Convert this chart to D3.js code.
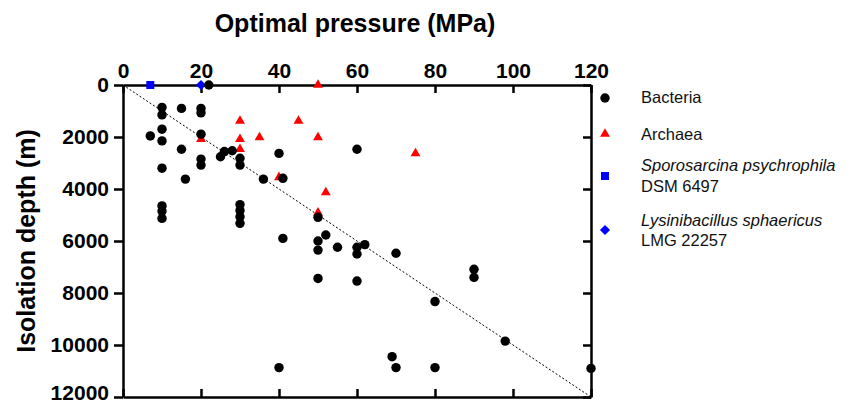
<!DOCTYPE html>
<html>
<head>
<meta charset="utf-8">
<script src="https://cdn.jsdelivr.net/npm/d3@7"></script>
<style>
  body { margin: 0; background: #fff; }
  text { font-family: "Liberation Sans", Arial, sans-serif; }
  .axis path, .axis line { stroke: #000; stroke-width: 2.5; }
  .axis text { font-size: 21px; font-weight: bold; fill: #000; }
</style>
</head>
<body>
<div id="Chart"></div>
<script>
var margin = { top: 85, right: 271, bottom: 7, left: 123 };
var width = 862 - margin.left - margin.right;
var height = 404 - margin.top - margin.bottom;

// optimal pressure (MPa), isolation depth (m)
var bacteriaX = [22, 10, 10, 10, 10, 10, 7, 15, 15, 16, 20, 20, 20, 20, 20, 25, 26, 28, 30, 30,
                 10, 10, 10, 30, 30, 30, 30, 40, 60, 36, 41, 50,
                 41, 52, 50, 50, 55, 60, 60, 62, 70, 50, 60, 80, 40, 69, 70, 80, 90, 90, 98, 120];
var bacteriaY = [0, 860, 1150, 1700, 2150, 3200, 1960, 900, 2470, 3620, 900, 1070, 1890, 2850, 3080, 2760, 2560, 2530, 2820, 3080,
                 4650, 4850, 5130, 4600, 4830, 5070, 5320, 2630, 2470, 3620, 3590, 5090,
                 5900, 5770, 6000, 6350, 6240, 6240, 6500, 6140, 6470, 7440, 7540, 8330, 10870, 10450, 10870, 10870, 7090, 7400, 9850, 10900];
var archaeaX = [50, 30, 45, 20, 30, 35, 50, 30, 75, 40, 52, 50];
var archaeaY = [0, 1380, 1380, 2080, 2080, 2020, 2020, 2470, 2630, 3550, 4130, 4910];
var sporoX = [7], sporoY = [0];
var lysiX = [20], lysiY = [0];

var xTicks = [0, 20, 40, 60, 80, 100, 120];
var yTicks = [0, 2000, 4000, 6000, 8000, 10000, 12000];

var svg = d3.select("#Chart")
    .append("svg")
    .attr("width", 862)
    .attr("height", 404);

var chart = svg.append("g")
    .attr("transform", "translate(" + margin.left + "," + margin.top + ")");

var x = d3.scaleLinear().domain([0, 120]).range([0, width]);
var y = d3.scaleLinear().domain([0, 12000]).range([0, height]);

// 1:1 reference line
chart.append("line")
    .attr("x1", x(0)).attr("y1", y(0))
    .attr("x2", x(120)).attr("y2", y(12000))
    .attr("stroke", "#000")
    .attr("stroke-width", 1)
    .attr("stroke-dasharray", "2,2");

chart.append("g")
    .attr("class", "axis")
    .call(d3.axisTop(x).tickValues(xTicks).tickSizeInner(-8).tickSizeOuter(0).tickPadding(7));

chart.append("g")
    .attr("class", "axis")
    .attr("transform", "translate(0," + height + ")")
    .call(d3.axisBottom(x).tickValues(xTicks).tickSizeInner(-8).tickSizeOuter(0).tickFormat(""));

var yAxis = chart.append("g")
    .attr("class", "axis")
    .call(d3.axisLeft(y).tickValues(yTicks).tickSize(9).tickSizeOuter(0).tickPadding(5).tickFormat(d3.format("d")));
// keep the last label inside the page
yAxis.selectAll(".tick text").filter(function(d) { return d === 12000; }).attr("dy", "0.1em");

chart.append("g")
    .attr("class", "axis")
    .attr("transform", "translate(" + width + ",0)")
    .call(d3.axisRight(y).tickValues(yTicks).tickSizeInner(-8).tickSizeOuter(0).tickFormat(""));

var circle = d3.symbol().type(d3.symbolCircle).size(70);
var triangle = d3.symbol().type(d3.symbolTriangle).size(42);
var square = d3.symbol().type(d3.symbolSquare).size(64);
var diamond = d3.symbol().type(d3.symbolSquare).size(52);

chart.selectAll(".sporo")
    .data(d3.range(sporoX.length))
    .enter().append("path")
    .attr("class", "sporo")
    .attr("d", square)
    .attr("transform", function(i) { return "translate(" + x(sporoX[i]) + "," + y(sporoY[i]) + ")"; })
    .attr("fill", "#0000ff");

chart.selectAll(".lysi")
    .data(d3.range(lysiX.length))
    .enter().append("path")
    .attr("class", "lysi")
    .attr("d", diamond)
    .attr("transform", function(i) { return "translate(" + x(lysiX[i]) + "," + y(lysiY[i]) + ") rotate(45)"; })
    .attr("fill", "#0000ff");

chart.selectAll(".archaea")
    .data(d3.range(archaeaX.length))
    .enter().append("path")
    .attr("class", "archaea")
    .attr("d", triangle)
    .attr("transform", function(i) { return "translate(" + x(archaeaX[i]) + "," + y(archaeaY[i]) + ")"; })
    .attr("fill", "#ff0000");

chart.selectAll(".bacteria")
    .data(d3.range(bacteriaX.length))
    .enter().append("path")
    .attr("class", "bacteria")
    .attr("d", circle)
    .attr("transform", function(i) { return "translate(" + x(bacteriaX[i]) + "," + y(bacteriaY[i]) + ")"; })
    .attr("fill", "#000");

// titles
svg.append("text")
    .attr("x", 355)
    .attr("y", 32)
    .attr("text-anchor", "middle")
    .style("font-size", "25px")
    .style("font-weight", "bold")
    .text("Optimal pressure (MPa)");

svg.append("text")
    .attr("transform", "translate(35," + (margin.top + height / 2) + ") rotate(-90)")
    .attr("text-anchor", "middle")
    .style("font-size", "25px")
    .style("font-weight", "bold")
    .text("Isolation depth (m)");

// legend
var legend = [
  { sym: circle, color: "#000", y: 98, rot: 0, lines: [["Bacteria", false]] },
  { sym: triangle, color: "#ff0000", y: 134, rot: 0, lines: [["Archaea", false]] },
  { sym: square, color: "#0000ff", y: 176, rot: 0, lines: [["Sporosarcina psychrophila", true], ["DSM 6497", false]] },
  { sym: diamond, color: "#0000ff", y: 230, rot: 45, lines: [["Lysinibacillus sphaericus", true], ["LMG 22257", false]] }
];
var legendTextY = [[103], [140], [171, 192], [226, 246]];

legend.forEach(function(d, i) {
  svg.append("path")
      .attr("d", d.sym)
      .attr("transform", "translate(605," + d.y + ") rotate(" + d.rot + ")")
      .attr("fill", d.color);
  d.lines.forEach(function(l, j) {
    svg.append("text")
        .attr("x", 641)
        .attr("y", legendTextY[i][j])
        .style("font-size", "16.5px")
        .style("font-style", l[1] ? "italic" : "normal")
        .style("fill", "#111")
        .text(l[0]);
  });
});
</script>
</body>
</html>
